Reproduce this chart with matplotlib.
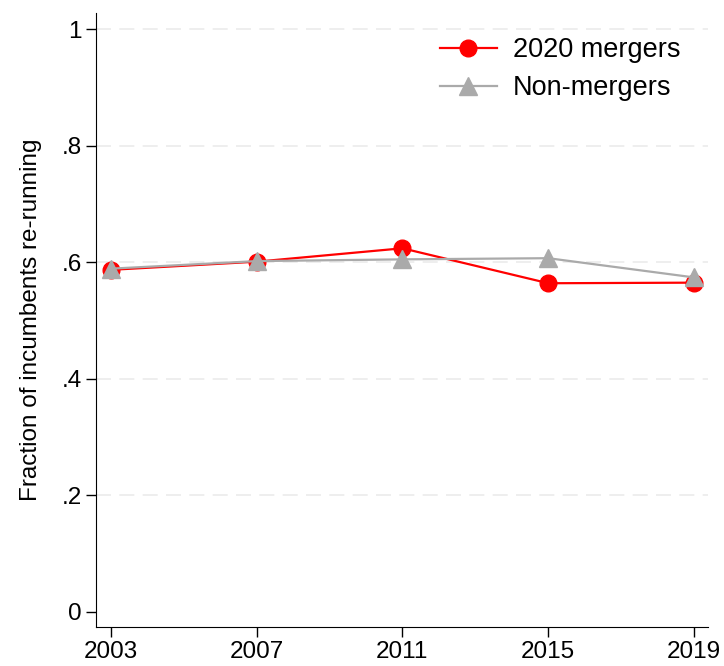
import matplotlib
matplotlib.use('Agg')
import matplotlib.pyplot as plt

plt.rcParams['font.family'] = ['Liberation Sans', 'DejaVu Sans']

# data
years = [2003, 2007, 2011, 2015, 2019]
mergers = [0.587, 0.601, 0.624, 0.564, 0.565]
non_mergers = [0.589, 0.602, 0.605, 0.607, 0.574]
yticks = [0, 0.2, 0.4, 0.6, 0.8, 1.0]
ylabels = ['0', '.2', '.4', '.6', '.8', '1']

fig = plt.figure(figsize=(7.24, 6.66), dpi=100)
ax = fig.add_axes([0.1322, 0.0586, 0.8457, 0.922])

ax.plot(years, mergers, color='#ff0000', lw=1.6, marker='o', ms=12,
        label='2020 mergers', zorder=3)
ax.plot(years, non_mergers, color='#aaaaaa', lw=1.6, marker='^', ms=12.5,
        label='Non-mergers', zorder=4)

ax.set_xlim(2002.59, 2019.38)
ax.set_ylim(-0.026, 1.028)
ax.set_xticks(years)
ax.set_yticks(yticks)
ax.set_yticklabels(ylabels)
for y in yticks[1:]:
    ax.axhline(y, color='#ebebeb', lw=1.2, ls=(0, (9, 5)), zorder=1)

ax.spines['top'].set_visible(False)
ax.spines['right'].set_visible(False)
ax.tick_params(direction='out', length=7.2, width=1, labelsize=17.5, pad=3,
               color='black')
ax.set_ylabel('Fraction of incumbents re-running', fontsize=17.5, labelpad=14)

ax.legend(loc='upper right', frameon=False, fontsize=19.5, handlelength=2.1,
          handletextpad=0.6, labelspacing=0.45, bbox_to_anchor=(0.995, 1.0))

fig.savefig('out.png', dpi=100)
